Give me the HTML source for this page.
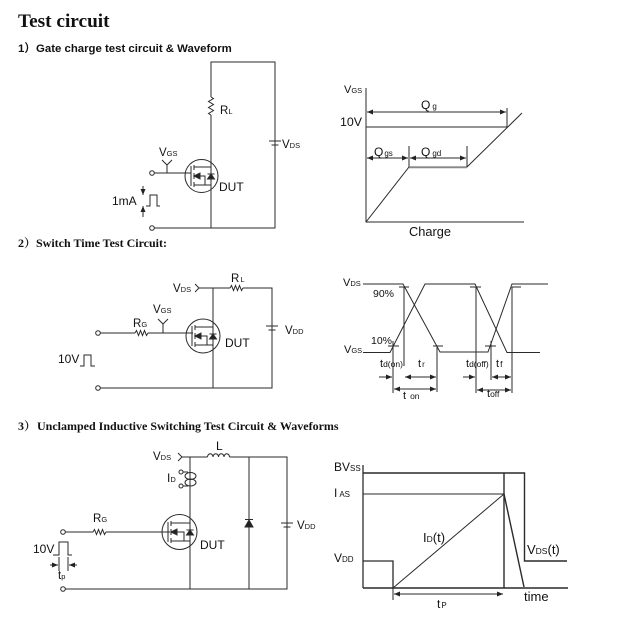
<!DOCTYPE html>
<html><head><meta charset="utf-8">
<style>
html,body{margin:0;padding:0;background:#fff;}
svg{display:block;}
</style></head>
<body>
<svg width="623" height="640" viewBox="0 0 623 640" xmlns="http://www.w3.org/2000/svg" fill="none" stroke="#2a2a2a" stroke-width="1">
<defs>
<marker id="ar" viewBox="0 0 6 5" refX="6" refY="2.5" markerWidth="6" markerHeight="5" markerUnits="userSpaceOnUse" orient="auto-start-reverse"><path d="M0,0 L6,2.5 L0,5 z" fill="#222" stroke="none"/></marker>
</defs>

<!-- ================= TITLES ================= -->
<g fill="#111" stroke="none">
<text x="18" y="27" font-family="Liberation Serif, serif" font-weight="bold" font-size="19.3">Test circuit</text>
<text x="18" y="52" font-family="Liberation Sans, 'Noto Sans CJK SC', sans-serif" font-weight="bold" font-size="11.4">1）</text>
<text x="36" y="52" font-family="Liberation Sans, sans-serif" font-weight="bold" font-size="11.4">Gate charge test circuit &amp; Waveform</text>
<text x="18" y="247" font-family="Liberation Serif, 'Noto Serif CJK SC', serif" font-weight="bold" font-size="12">2）</text>
<text x="36" y="247" font-family="Liberation Serif, serif" font-weight="bold" font-size="12">Switch Time Test Circuit:</text>
<text x="18" y="430" font-family="Liberation Serif, 'Noto Serif CJK SC', serif" font-weight="bold" font-size="12">3）</text>
<text x="37" y="430" font-family="Liberation Serif, serif" font-weight="bold" font-size="12">Unclamped Inductive Switching Test Circuit &amp; Waveforms</text>
</g>

<!-- ================= CIRCUIT 1 ================= -->
<path d="M211,97 V62 H275 V228 H154.5"/>
<path d="M211,115 V228"/>
<path d="M211,97 l2.5,1.5 l-5,3 l5,3 l-5,3 l5,3 l-5,3 l2.5,1.5"/>
<path d="M269,141 H281 M271.5,145 H278.5"/>
<path d="M154.5,173 H191"/>
<path d="M167,173 V165 M162,160 L167,165 L172,160"/>
<circle cx="152" cy="173" r="2.3" fill="#fff"/>
<circle cx="152" cy="228" r="2.3" fill="#fff"/>
<path d="M143,186 V195" marker-end="url(#ar)"/>
<path d="M143,217 V206" marker-end="url(#ar)"/>
<path d="M146,206 H150 V195 H157 V206 H160"/>
<g transform="translate(211,176)">
 <circle cx="-9.5" cy="0" r="16.5"/>
 <path d="M-20,-10 V10"/>
 <path d="M-17,-11 V-6 M-17,-3 V3 M-17,6 V11"/>
 <path d="M-17,-9 H0 M-17,9 H0 M-12,0 H-6 V9"/>
 <path d="M-17,0 L-11,-3 L-11,3 z" fill="#222"/>
 <path d="M-3.5,3 L3.5,3 L0,-2 z" fill="#222"/>
 <path d="M-3.5,-2 H3.5"/>
</g>
<g fill="#111" stroke="none" font-family="Liberation Sans, sans-serif">
<text x="220" y="114" font-size="11.5">R<tspan font-size="7.5">L</tspan></text>
<text x="282" y="148" font-size="11.5">V<tspan font-size="7.5">DS</tspan></text>
<text x="159" y="156" font-size="11.5">V<tspan font-size="7.5">GS</tspan></text>
<text x="219" y="191" font-size="12">DUT</text>
<text x="112" y="205" font-size="12">1mA</text>
</g>

<!-- ================= GRAPH 1 ================= -->
<path d="M366,88 V222 H524"/>
<path d="M366,127 H507 M507,108 V127"/>
<path d="M367,112 H506" marker-start="url(#ar)" marker-end="url(#ar)"/>
<path d="M409,146 V167 M467,146 V167"/>
<path d="M367,158 H408" marker-start="url(#ar)" marker-end="url(#ar)"/>
<path d="M410,158 H466" marker-start="url(#ar)" marker-end="url(#ar)"/>
<path d="M366,222 L409,167 H467 L522,113"/>
<path d="M409,167.5 H467" stroke="#888" stroke-width="1.5"/>
<g fill="#111" stroke="none" font-family="Liberation Sans, sans-serif">
<text x="344" y="93" font-size="11">V<tspan font-size="7.5">GS</tspan></text>
<text x="340" y="126" font-size="12.4">10V</text>
<text x="421" y="109" font-size="12">Q<tspan font-size="8" dx="2">g</tspan></text>
<text x="374" y="156" font-size="12">Q<tspan font-size="8" dx="1">gs</tspan></text>
<text x="421" y="156" font-size="12">Q<tspan font-size="8" dx="2">gd</tspan></text>
<text x="409" y="236" font-size="12.8">Charge</text>
</g>

<!-- ================= CIRCUIT 2 ================= -->
<path d="M195,284 L199,288 L195,292"/>
<path d="M199,288 H230 M243,288 H272 V388 H100.5"/>
<path d="M230,288 l1.5,-2.5 l2,5 l2,-5 l2,5 l2,-5 l2,5 l1.5,-2.5"/>
<path d="M213,288 V388"/>
<path d="M266,326 H278 M268.5,330 H275.5"/>
<path d="M100.5,333 H135 M148,333 H193"/>
<path d="M135,333 l1.5,-2.5 l2,5 l2,-5 l2,5 l2,-5 l2,5 l1.5,-2.5"/>
<path d="M163,333 V324 M158,319 L163,324 L168,319"/>
<circle cx="98" cy="333" r="2.3" fill="#fff"/>
<circle cx="98" cy="388" r="2.3" fill="#fff"/>
<path d="M80,366 H84 V355 H91 V366 H95"/>
<g transform="translate(213,336)">
 <circle cx="-10" cy="0" r="17"/>
 <path d="M-21,-10 V10"/>
 <path d="M-18,-11 V-6 M-18,-3 V3 M-18,6 V11"/>
 <path d="M-18,-9 H0 M-18,9 H0 M-13,0 H-6 V9"/>
 <path d="M-18,0 L-12,-3 L-12,3 z" fill="#222"/>
 <path d="M-3.5,3 L3.5,3 L0,-2 z" fill="#222"/>
 <path d="M-3.5,-2 H3.5"/>
</g>
<g fill="#111" stroke="none" font-family="Liberation Sans, sans-serif">
<text x="173" y="292" font-size="11.5">V<tspan font-size="7.5">DS</tspan></text>
<text x="231" y="282" font-size="11.5">R<tspan font-size="7.5" dx="1">L</tspan></text>
<text x="285" y="334" font-size="11.5">V<tspan font-size="7.5">DD</tspan></text>
<text x="133" y="327" font-size="11.5">R<tspan font-size="7.5">G</tspan></text>
<text x="153" y="313" font-size="11.5">V<tspan font-size="7.5">GS</tspan></text>
<text x="225" y="347" font-size="12">DUT</text>
<text x="58" y="363" font-size="12">10V</text>
</g>

<!-- ================= GRAPH 2 ================= -->
<path d="M363,284 H403 L440,352 H488 L512,284 H548"/>
<path d="M363,352.5 H390 L425,284 H475 L507,352.5 H540"/>
<path d="M399,287 H409 M470,287 H481 M512,287 H521"/>
<path d="M388,346 H399 M433,346 H443 M485,346 H496"/>
<path d="M393,341 V393 M404,287 V366 M437,346 V392 M476,287 V393 M491,341 V380 M512,287 V393"/>
<path d="M379,377 H392" marker-end="url(#ar)"/>
<path d="M405,377 H436" marker-start="url(#ar)" marker-end="url(#ar)"/>
<path d="M394,389 H436" marker-start="url(#ar)" marker-end="url(#ar)"/>
<path d="M463,377 H475" marker-end="url(#ar)"/>
<path d="M492,377 H511" marker-start="url(#ar)" marker-end="url(#ar)"/>
<path d="M477,390 H511" marker-start="url(#ar)" marker-end="url(#ar)"/>
<g fill="#111" stroke="none" font-family="Liberation Sans, sans-serif">
<text x="343" y="286" font-size="11">V<tspan font-size="7.5">DS</tspan></text>
<text x="373" y="297" font-size="10.5">90%</text>
<text x="371" y="344" font-size="10.5">10%</text>
<text x="344" y="353" font-size="11">V<tspan font-size="7.5">GS</tspan></text>
<text x="380" y="367" font-size="11">t<tspan font-size="8.5">d(on)</tspan></text>
<text x="418" y="367" font-size="11">t<tspan font-size="8" dx="1">r</tspan></text>
<text x="466" y="367" font-size="11">t<tspan font-size="8.5">d(off)</tspan></text>
<text x="496" y="367" font-size="11">t<tspan font-size="8.5" dx="1">f</tspan></text>
<text x="403" y="399" font-size="11">t<tspan font-size="8.5" dx="4">on</tspan></text>
<text x="487" y="397" font-size="11">t<tspan font-size="8.5">off</tspan></text>
</g>

<!-- ================= CIRCUIT 3 ================= -->
<path d="M178,453 L182,457 L178,461"/>
<path d="M182,457 H207.5 M229.5,457 H287 V589 H65.5"/>
<path d="M207.5,457 a2.75,3.2 0 0 1 5.5,0 a2.75,3.2 0 0 1 5.5,0 a2.75,3.2 0 0 1 5.5,0 a2.75,3.2 0 0 1 5.5,0"/>
<path d="M190,457 V589"/>
<path d="M249,457 V589"/>
<circle cx="181" cy="472" r="2" fill="#fff"/>
<circle cx="181" cy="486" r="2" fill="#fff"/>
<path d="M183,472 H188 M183,486 H188"/>
<ellipse cx="190.5" cy="476" rx="5.5" ry="3.5"/>
<ellipse cx="190.5" cy="482.5" rx="5.5" ry="3.5"/>
<path d="M245,527 L253,527 L249,520 z" fill="#222"/>
<path d="M245,519.5 H253"/>
<path d="M281,523 H293 M283.5,527 H290.5"/>
<path d="M65.5,532 H93 M106,532 H170"/>
<path d="M93,532 l1.5,-2.5 l2,5 l2,-5 l2,5 l2,-5 l2,5 l1.5,-2.5"/>
<circle cx="63" cy="532" r="2.3" fill="#fff"/>
<circle cx="63" cy="589" r="2.3" fill="#fff"/>
<path d="M53,555 H59 V542 H68 V555 H72"/>
<path d="M59,557 V571 M68,557 V571"/>
<path d="M50,565 H58" marker-end="url(#ar)"/>
<path d="M77,565 H69" marker-end="url(#ar)"/>
<g transform="translate(190,532)">
 <circle cx="-10.5" cy="0" r="17.5"/>
 <path d="M-22,-10 V10"/>
 <path d="M-19,-11 V-6 M-19,-3 V3 M-19,6 V11"/>
 <path d="M-19,-9 H0 M-19,9 H0 M-14,0 H-6 V9"/>
 <path d="M-19,0 L-13,-3 L-13,3 z" fill="#222"/>
 <path d="M-3.5,3 L3.5,3 L0,-2 z" fill="#222"/>
 <path d="M-3.5,-2 H3.5"/>
</g>
<g fill="#111" stroke="none" font-family="Liberation Sans, sans-serif">
<text x="153" y="460" font-size="11.5">V<tspan font-size="7.5">DS</tspan></text>
<text x="216" y="450" font-size="12">L</text>
<text x="167" y="482" font-size="12">I<tspan font-size="7.5">D</tspan></text>
<text x="93" y="522" font-size="11.5">R<tspan font-size="7.5">G</tspan></text>
<text x="200" y="549" font-size="12">DUT</text>
<text x="297" y="529" font-size="11.5">V<tspan font-size="7.5">DD</tspan></text>
<text x="33" y="553" font-size="12">10V</text>
<text x="58" y="579" font-size="11.5">t<tspan font-size="7.5">p</tspan></text>
</g>

<!-- ================= GRAPH 3 ================= -->
<path d="M363,465 V588" stroke="#777" stroke-width="2"/>
<path d="M363,588 H568" stroke-width="1.4"/>
<path d="M363,473 H524.5 V561 H567" stroke-width="1.4"/>
<path d="M504,473 V588" stroke-width="1.4"/>
<path d="M363,494 H504"/>
<path d="M363,561 H393 V588" stroke-width="1.3"/>
<path d="M393,588 L504,494"/>
<path d="M504,494 L524,587" stroke-width="1.4"/>
<path d="M393,588 V600"/>
<path d="M394,594 H503" marker-start="url(#ar)" marker-end="url(#ar)"/>
<g fill="#111" stroke="none" font-family="Liberation Sans, sans-serif">
<text x="334" y="471" font-size="12">BV<tspan font-size="8">SS</tspan></text>
<text x="334" y="497" font-size="12">I<tspan font-size="8" dx="2">AS</tspan></text>
<text x="334" y="562" font-size="12">V<tspan font-size="8">DD</tspan></text>
<text x="423" y="542" font-size="13">I<tspan font-size="8.5">D</tspan>(t)</text>
<text x="527" y="554" font-size="13">V<tspan font-size="8.5">DS</tspan>(t)</text>
<text x="524" y="601" font-size="13">time</text>
<text x="437" y="608" font-size="12">t<tspan font-size="8" dx="1">P</tspan></text>
</g>
</svg>
</body></html>
